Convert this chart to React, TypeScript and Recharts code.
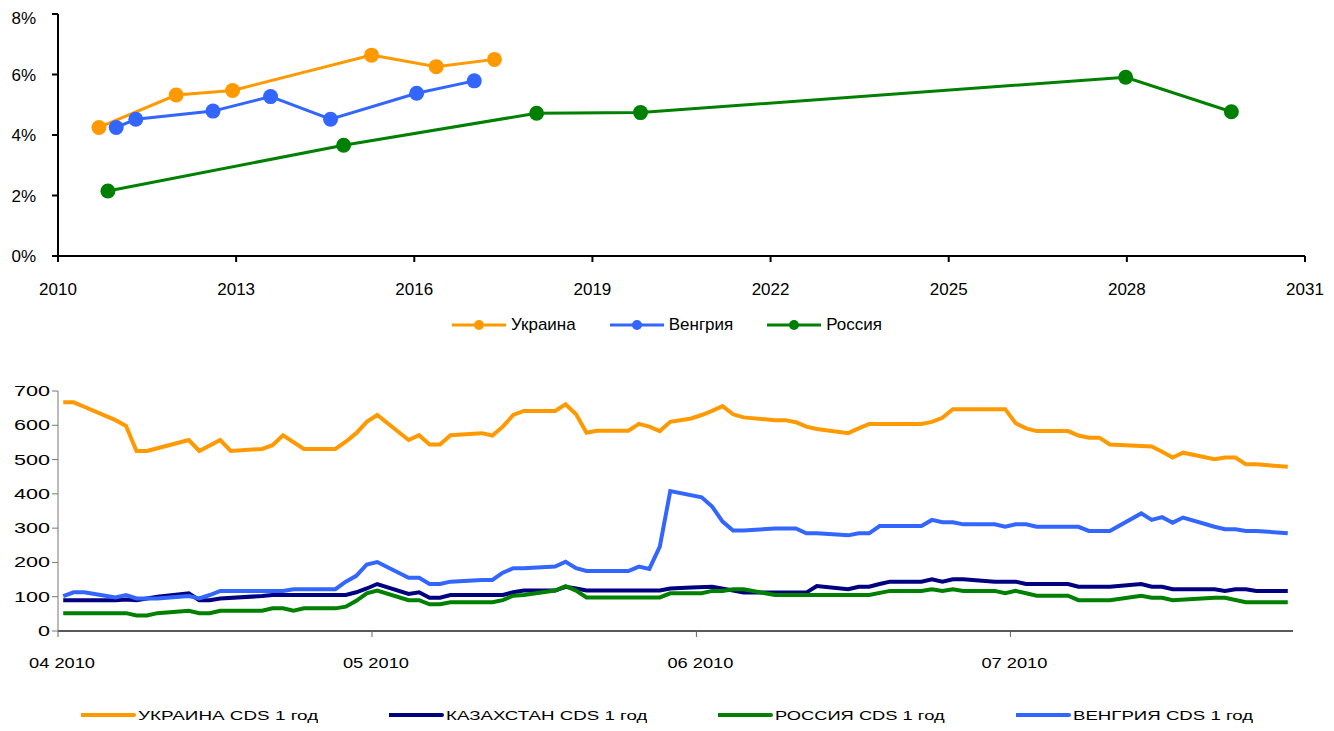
import { LineChart, Line, XAxis, YAxis, Legend } from "recharts";

const FONT = "'Liberation Sans', Arial, sans-serif";

// ---- top chart: yield vs maturity (year, %)
const ukraineYears = [2010.69, 2011.99, 2012.94, 2015.28, 2016.37, 2017.35];
const ukraineYield = [4.25, 5.32, 5.47, 6.64, 6.26, 6.5];
const hungaryYears = [2010.98, 2011.31, 2012.61, 2013.58, 2014.59, 2016.04, 2017.01];
const hungaryYield = [4.25, 4.52, 4.79, 5.27, 4.52, 5.38, 5.79];
const russiaYears = [2010.84, 2014.81, 2018.06, 2019.81, 2027.98, 2029.76];
const russiaYield = [2.15, 3.66, 4.72, 4.74, 5.91, 4.77];
const yearTicks = [2010, 2013, 2016, 2019, 2022, 2025, 2028, 2031];
const pctTicks = [0, 2, 4, 6, 8];

// ---- bottom chart: CDS 1y, [day since 1 Apr 2010, bp]
const ukraineCds = [
  [0, 667], [1, 667], [2, 654], [5, 615], [6, 598], [7, 525], [8, 525], [9, 533],
  [12, 557], [13, 525], [15, 557], [16, 525], [19, 531], [20, 542], [21, 571],
  [23, 531], [26, 531], [27, 552], [28, 577], [29, 610], [30, 630], [33, 557],
  [34, 571], [35, 544], [36, 544], [37, 571], [40, 577], [41, 570], [42, 596],
  [43, 630], [44, 642], [47, 642], [48, 661], [49, 632], [50, 578], [51, 584],
  [54, 584], [55, 604], [56, 596], [57, 583], [58, 610], [60, 620], [61, 630],
  [62, 642], [63, 656], [64, 632], [65, 623], [68, 615], [69, 615], [70, 609],
  [71, 596], [72, 589], [75, 577], [76, 591], [77, 604], [82, 604], [83, 610],
  [84, 622], [85, 647], [90, 647], [91, 606], [92, 591], [93, 583], [96, 583],
  [97, 570], [98, 564], [99, 564], [100, 544], [104, 538], [105, 523], [106, 506],
  [107, 520], [110, 501], [111, 506], [112, 506], [113, 486], [114, 486], [117, 479],
];
const kazakhstanCds = [
  [0, 90], [5, 90], [6, 92], [7, 90], [9, 100], [12, 110], [13, 90], [14, 90],
  [15, 95], [19, 102], [20, 105], [27, 105], [28, 113], [29, 124], [30, 137],
  [33, 108], [34, 113], [35, 97], [36, 97], [37, 105], [42, 105], [43, 113],
  [44, 118], [47, 118], [48, 129], [49, 124], [50, 118], [57, 118], [58, 124],
  [60, 127], [62, 129], [64, 118], [65, 112], [71, 112], [72, 131], [75, 122],
  [76, 129], [77, 129], [78, 137], [79, 144], [82, 144], [83, 151], [84, 144],
  [85, 151], [86, 151], [89, 144], [91, 144], [92, 137], [96, 137], [97, 129],
  [100, 129], [103, 137], [104, 129], [105, 129], [106, 122], [110, 122],
  [111, 117], [112, 122], [113, 122], [114, 117], [117, 117],
];
const russiaCds = [
  [0, 52], [6, 52], [7, 45], [8, 45], [9, 52], [12, 59], [13, 52], [14, 52],
  [15, 59], [19, 59], [20, 66], [21, 66], [22, 59], [23, 66], [26, 66], [27, 71],
  [28, 88], [29, 110], [30, 118], [33, 90], [34, 90], [35, 78], [36, 78], [37, 84],
  [41, 84], [42, 90], [43, 103], [44, 105], [47, 118], [48, 131], [49, 118],
  [50, 98], [57, 98], [58, 110], [61, 110], [62, 117], [63, 117], [64, 122],
  [65, 122], [68, 105], [77, 105], [79, 117], [82, 117], [83, 122], [84, 117],
  [85, 122], [86, 117], [89, 117], [90, 110], [91, 117], [92, 110], [93, 103],
  [96, 103], [97, 90], [100, 90], [103, 103], [104, 97], [105, 97], [106, 90],
  [110, 97], [111, 97], [113, 84], [117, 84],
];
const hungaryCds = [
  [0, 102], [1, 113], [2, 113], [5, 98], [6, 105], [7, 95], [9, 95], [12, 102],
  [13, 95], [14, 105], [15, 117], [21, 117], [22, 122], [26, 122], [27, 144],
  [28, 161], [29, 194], [30, 201], [33, 155], [34, 155], [35, 137], [36, 137],
  [37, 144], [40, 149], [41, 149], [42, 170], [43, 183], [44, 183], [47, 188],
  [48, 202], [49, 183], [50, 175], [54, 175], [55, 188], [56, 181], [57, 246],
  [58, 408], [61, 390], [62, 363], [63, 319], [64, 293], [65, 293], [68, 299],
  [70, 299], [71, 285], [72, 285], [75, 279], [76, 285], [77, 285], [78, 306],
  [82, 306], [83, 324], [84, 317], [85, 317], [86, 311], [89, 311], [90, 304],
  [91, 311], [92, 311], [93, 304], [97, 304], [98, 292], [100, 292], [103, 343],
  [104, 324], [105, 332], [106, 316], [107, 331], [110, 304], [111, 297],
  [112, 297], [113, 292], [114, 292], [117, 285],
];
// month boundaries sit half a day before the first day of each month
const monthTicks = [-0.5, 29.5, 60.5, 90.5];
const monthLabels = ["04 2010", "05 2010", "06 2010", "07 2010"];
const cdsTicks = [0, 100, 200, 300, 400, 500, 600, 700];

const ORANGE = "#FF9900";
const BLUE = "#3366FF";
const GREEN = "#008000";
const NAVY = "#000080";

const toPoints = (xs: number[], ys: number[]) => xs.map((x, i) => ({ x, y: ys[i] }));
const toDays = (pairs: number[][]) => pairs.map(([d, v]) => ({ x: d, y: v }));

const topSeries = [
  { name: "Украина", color: ORANGE, data: toPoints(ukraineYears, ukraineYield) },
  { name: "Венгрия", color: BLUE, data: toPoints(hungaryYears, hungaryYield) },
  { name: "Россия", color: GREEN, data: toPoints(russiaYears, russiaYield) },
];

const bottomSeries = [
  { name: "УКРАИНА CDS 1 год", color: ORANGE, data: toDays(ukraineCds) },
  { name: "КАЗАХСТАН CDS 1 год", color: NAVY, data: toDays(kazakhstanCds) },
  { name: "РОССИЯ CDS 1 год", color: GREEN, data: toDays(russiaCds) },
  { name: "ВЕНГРИЯ CDS 1 год", color: BLUE, data: toDays(hungaryCds) },
];

function TopLegend() {
  return (
    <div style={{ display: "flex", justifyContent: "center", gap: 34, fontFamily: FONT, fontSize: 17, color: "#000" }}>
      {topSeries.map((s) => (
        <div key={s.name} style={{ display: "flex", alignItems: "center" }}>
          <svg width={54} height={20}>
            <line x1={0} y1={10} x2={54} y2={10} stroke={s.color} strokeWidth={3} />
            <circle cx={27} cy={10} r={5} fill={s.color} />
          </svg>
          <span style={{ marginLeft: 5 }}>{s.name}</span>
        </div>
      ))}
    </div>
  );
}

function BottomLegend() {
  return (
    <div style={{ display: "flex", justifyContent: "center", gap: 71 }}>
      {bottomSeries.map((s) => {
        const w = s.name.length * 10.6;
        return (
          <svg key={s.name} width={57 + w} height={20}>
            <line x1={0} y1={10} x2={53} y2={10} stroke={s.color} strokeWidth={4} strokeLinecap="round" />
            <text x={57} y={15} fontFamily={FONT} fontSize={13} fill="#000" textLength={w} lengthAdjust="spacingAndGlyphs">
              {s.name}
            </text>
          </svg>
        );
      })}
    </div>
  );
}

function CdsYTick(props: any) {
  const label = String(props.payload.value);
  return (
    <text x={props.x} y={props.y} dy={5} textAnchor="end" fontFamily={FONT} fontSize={14} fill="#000"
      textLength={label.length * 12} lengthAdjust="spacingAndGlyphs">
      {label}
    </text>
  );
}

function MonthTick(props: any) {
  const label = monthLabels[monthTicks.indexOf(props.payload.value)] ?? "";
  return (
    <text x={props.x + 4} y={props.y} dy={11} textAnchor="middle" fontFamily={FONT} fontSize={15} fill="#000"
      textLength={66} lengthAdjust="spacingAndGlyphs">
      {label}
    </text>
  );
}

export default function App() {
  return (
    <div style={{ width: 1318, fontFamily: FONT }}>
      <LineChart width={1318} height={340} margin={{ top: 6, right: 21, left: 0, bottom: 62 }}>
        <XAxis
          type="number"
          dataKey="x"
          domain={[2010, 2031]}
          ticks={yearTicks}
          allowDataOverflow
          stroke="#000"
          strokeWidth={2}
          tickSize={6}
          tickMargin={21}
          height={30}
          tick={{ fill: "#000", fontSize: 17, fontFamily: FONT }}
        />
        <YAxis
          type="number"
          dataKey="y"
          domain={[0, 8]}
          ticks={pctTicks}
          tickFormatter={(v: number) => `${v}%`}
          stroke="#000"
          strokeWidth={2}
          tickSize={6}
          tickMargin={16}
          width={50}
          tick={{ fill: "#000", fontSize: 17, fontFamily: FONT }}
        />
        {topSeries.map((s) => (
          <Line
            key={s.name}
            data={s.data}
            dataKey="y"
            name={s.name}
            type="linear"
            stroke={s.color}
            strokeWidth={3}
            dot={{ r: 7.5, fill: s.color, stroke: s.color, strokeWidth: 0 }}
            activeDot={false}
            isAnimationActive={false}
          />
        ))}
        <Legend verticalAlign="middle" content={<TopLegend />} wrapperStyle={{ top: 307, left: 0, width: 1318 }} />
      </LineChart>

      <LineChart width={1318} height={375} margin={{ top: 43, right: 33, left: 0, bottom: 62 }}>
        <XAxis
          type="number"
          dataKey="x"
          domain={[-0.5, 117.5]}
          ticks={monthTicks}
          allowDataOverflow
          stroke="#222"
          strokeWidth={1.5}
          tickLine={{ stroke: "#666", strokeWidth: 1 }}
          tickSize={6}
          tickMargin={20}
          height={30}
          tick={<MonthTick />}
        />
        <YAxis
          type="number"
          dataKey="y"
          domain={[0, 700]}
          ticks={cdsTicks}
          stroke="#777"
          strokeWidth={1}
          tickSize={6}
          tickMargin={2}
          width={50}
          tick={<CdsYTick />}
        />
        {bottomSeries.map((s) => (
          <Line
            key={s.name}
            data={s.data}
            dataKey="y"
            name={s.name}
            type="linear"
            stroke={s.color}
            strokeWidth={4}
            dot={false}
            activeDot={false}
            isAnimationActive={false}
          />
        ))}
        <Legend verticalAlign="middle" content={<BottomLegend />} wrapperStyle={{ top: 357, left: 0, width: 1318 }} />
      </LineChart>
    </div>
  );
}
